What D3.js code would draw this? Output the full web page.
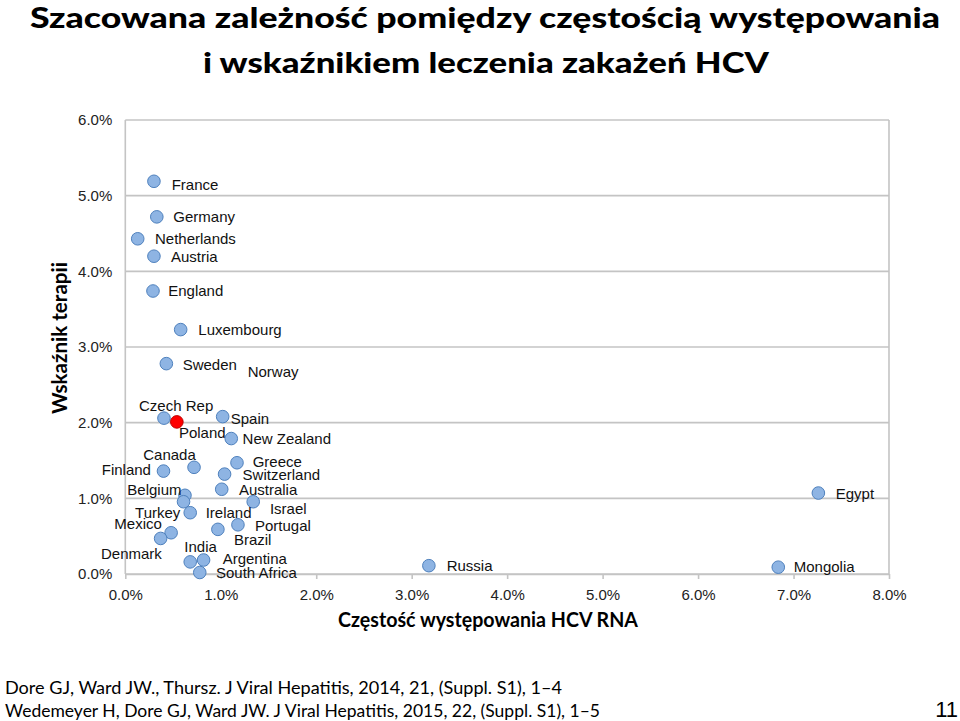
<!DOCTYPE html>
<html>
<head>
<meta charset="utf-8">
<script src="https://cdn.jsdelivr.net/npm/d3@7"></script>
<style>
  html, body { margin: 0; padding: 0; background: #fff; }
  svg { display: block; }
</style>
</head>
<body>
<div id="chart"></div>
<script>
// ---------- DATA ----------
const countries = ["France","Germany","Netherlands","Austria","England","Luxembourg","Sweden",
  "Czech Rep","Poland","Spain","New Zealand","Canada","Finland","Greece","Switzerland","Australia",
  "Belgium","Turkey","Ireland","Israel","Brazil","Portugal","Mexico","Denmark","India","Argentina",
  "South Africa","Russia","Mongolia","Egypt"];
// prevalence of HCV RNA (%)
const prevalence = [0.30,0.33,0.13,0.30,0.29,0.58,0.43,
  0.405,0.54,1.02,1.11,0.72,0.40,1.17,1.04,1.01,
  0.625,0.61,0.68,1.34,0.97,1.18,0.48,0.37,0.68,0.82,
  0.78,3.18,6.84,7.26];
// treatment rate (%)
const treatment = [5.19,4.72,4.43,4.20,3.74,3.23,2.78,
  2.06,2.01,2.08,1.79,1.41,1.36,1.47,1.32,1.12,
  1.04,0.955,0.81,0.955,0.59,0.65,0.545,0.47,0.16,0.185,
  0.02,0.11,0.09,1.07];
// label anchor positions (in data units: prevalence %, treatment %)
const labelX = [0.486,0.503,0.311,0.479,0.450,0.765,0.601,
  0.144,0.562,1.104,1.229,0.188,-0.247,1.334,1.229,1.190,
  0.021,0.102,0.842,1.515,1.138,1.358,-0.115,-0.255,0.618,1.020,
  0.950,3.366,7.002,7.442];
const labelY = [5.148,4.720,4.425,4.192,3.742,3.223,2.761,
  2.219,1.872,2.057,1.783,1.572,1.374,1.483,1.317,1.110,
  1.119,0.810,0.810,0.867,0.449,0.634,0.669,0.273,0.361,0.207,
  0.023,0.106,0.090,1.056];
// label-only annotation (no marker visible)
const extraLabels = ["Norway"];
const extraLabelX = [1.282];
const extraLabelY = [2.672];
const highlighted = ["Poland"];

const xTicks = [0,1,2,3,4,5,6,7,8];
const yTicks = [0,1,2,3,4,5,6];
const xTickLabels = ["0.0%","1.0%","2.0%","3.0%","4.0%","5.0%","6.0%","7.0%","8.0%"];
const yTickLabels = ["0.0%","1.0%","2.0%","3.0%","4.0%","5.0%","6.0%"];

const titleLines = ["Szacowana zależność pomiędzy częstością  występowania",
                    "i wskaźnikiem leczenia zakażeń HCV"];
const xTitle = "Częstość występowania HCV RNA";
const yTitle = "Wskaźnik terapii";
const footnotes = ["Dore GJ,  Ward JW., Thursz. J Viral Hepatitis, 2014, 21, (Suppl. S1), 1–4",
                   "Wedemeyer H, Dore GJ,  Ward JW. J Viral Hepatitis, 2015, 22, (Suppl. S1), 1–5"];
const pageNumber = "11";

// ---------- LAYOUT ----------
const W = 960, H = 721;
const plot = { left: 125.3, right: 889, top: 120, bottom: 574 };
const ARIAL = "'Liberation Sans', Arial, sans-serif";
const CAL = "Lato, 'Open Sans', sans-serif";

const svg = d3.select("#chart").append("svg").attr("width", W).attr("height", H);

const x = d3.scaleLinear().domain([0, 8]).range([plot.left, plot.right]);
const y = d3.scaleLinear().domain([0, 6]).range([plot.bottom, plot.top]);

// title
svg.selectAll("text.title").data(titleLines).join("text")
  .attr("class","title")
  .attr("x", (d,i) => i === 0 ? 30 : 203)
  .attr("y", (d,i) => i === 0 ? 28 : 73)
  .attr("textLength", (d,i) => i === 0 ? 910 : 566)
  .attr("lengthAdjust", "spacingAndGlyphs")
  .style("font-family", CAL).style("font-weight", 900).style("font-size", "28px")
  .style("fill", "#000")
  .text(d => d);

// gridlines
const gridColor = "#c4c4c4";
svg.append("g").selectAll("line").data(yTicks).join("line")
  .attr("x1", plot.left).attr("x2", plot.right)
  .attr("y1", d => y(d)).attr("y2", d => y(d))
  .attr("stroke", gridColor).attr("stroke-width", 1.6);

// left & right border
svg.append("line").attr("x1", plot.left).attr("x2", plot.left)
  .attr("y1", plot.top).attr("y2", plot.bottom)
  .attr("stroke", gridColor).attr("stroke-width", 1.6);
svg.append("line").attr("x1", plot.right).attr("x2", plot.right)
  .attr("y1", plot.top).attr("y2", plot.bottom)
  .attr("stroke", gridColor).attr("stroke-width", 1.6);

// x axis
const xAxis = d3.axisBottom(x).tickValues(xTicks).tickSize(5).tickSizeOuter(0)
  .tickFormat((d,i) => xTickLabels[i]);
const gx = svg.append("g").attr("transform", `translate(0,${plot.bottom})`).call(xAxis);
gx.select(".domain").attr("stroke", gridColor).attr("stroke-width", 1.6);
gx.selectAll(".tick line").attr("stroke", gridColor).attr("stroke-width", 1.6);
gx.selectAll(".tick text").attr("dy", null).attr("y", 26)
  .style("font-family", ARIAL).style("font-size", "15px").style("fill", "#222");

// y axis
const yAxis = d3.axisLeft(y).tickValues(yTicks).tickSize(0).tickPadding(13)
  .tickFormat((d,i) => yTickLabels[i]);
const gy = svg.append("g").attr("transform", `translate(${plot.left},0)`).call(yAxis);
gy.select(".domain").remove();
gy.selectAll(".tick text")
  .style("font-family", ARIAL).style("font-size", "15px").style("fill", "#222");

// axis titles
svg.append("text").attr("x", 488).attr("y", 627).attr("text-anchor", "middle")
  .attr("textLength", 300).attr("lengthAdjust", "spacingAndGlyphs")
  .style("font-family", CAL).style("font-weight", 700).style("font-size", "20px")
  .text(xTitle);
svg.append("text")
  .attr("transform", `translate(67,${338}) rotate(-90)`)
  .attr("text-anchor", "middle")
  .attr("textLength", 152).attr("lengthAdjust", "spacingAndGlyphs")
  .style("font-family", CAL).style("font-weight", 700).style("font-size", "20px")
  .text(yTitle);

// points
const pts = countries.map((c,i) => ({ name: c, px: prevalence[i], ty: treatment[i], lx: labelX[i], ly: labelY[i] }));
svg.append("g").selectAll("circle").data(pts).join("circle")
  .attr("cx", d => x(d.px)).attr("cy", d => y(d.ty)).attr("r", 6.3)
  .attr("fill", d => highlighted.includes(d.name) ? "#ff0000" : "#8eb4e3")
  .attr("stroke", d => highlighted.includes(d.name) ? "#c00000" : "#4f81bd")
  .attr("stroke-width", 1);

// labels
const labels = pts.map(d => ({ name: d.name, lx: d.lx, ly: d.ly }))
  .concat(extraLabels.map((n,i) => ({ name: n, lx: extraLabelX[i], ly: extraLabelY[i] })));
svg.append("g").selectAll("text").data(labels).join("text")
  .attr("x", d => x(d.lx)).attr("y", d => y(d.ly)).attr("dy", "0.35em")
  .style("font-family", ARIAL).style("font-size", "15px").style("fill", "#111")
  .text(d => d.name);

// footnotes
svg.selectAll("text.foot").data(footnotes).join("text")
  .attr("class","foot")
  .attr("x", 5).attr("y", (d,i) => 694 + i*23)
  .attr("textLength", (d,i) => i === 0 ? 557 : 595)
  .attr("lengthAdjust", "spacingAndGlyphs")
  .style("font-family", CAL).style("font-size", "17.5px").style("fill", "#000")
  .text(d => d);

svg.append("text").attr("x", 958).attr("y", 717).attr("text-anchor", "end")
  .style("font-family", ARIAL).style("font-size", "22px").style("fill", "#000")
  .text(pageNumber);
</script>
</body>
</html>
